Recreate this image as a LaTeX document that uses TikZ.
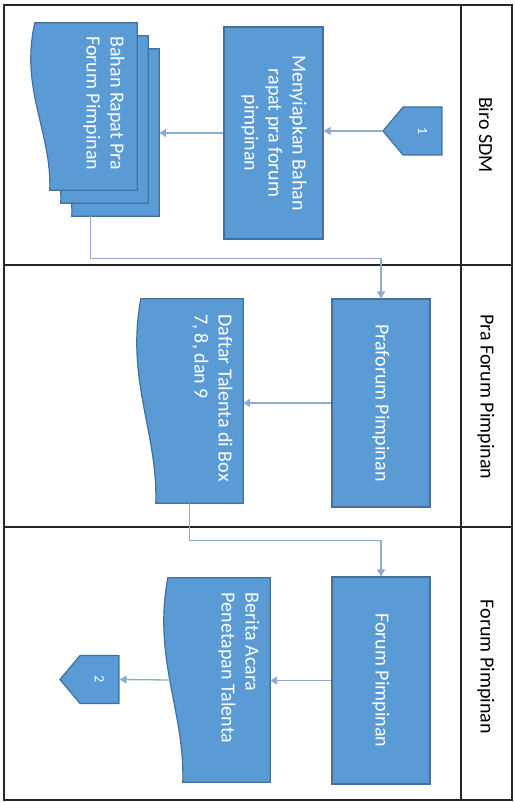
\documentclass[tikz,border=0pt]{standalone}
\usepackage{fontspec}
\setmainfont{Carlito}
\usepackage{graphicx}
\usetikzlibrary{arrows.meta,calc,shapes.symbols}
\pgfdeclarelayer{background}
\pgfsetlayers{background,main}
\definecolor{boxblue}{HTML}{5B9BD5}
\definecolor{boxedge}{HTML}{41719C}
\definecolor{flowline}{HTML}{8EAACE}
\newcommand{\turned}[1]{\rotatebox{-90}{#1}}
% document symbol with the wavy edge on the left
\newcommand{\docshape}[1]{%
  \filldraw[draw=boxedge,fill=boxblue,line width=1.2pt]
    ($(#1.north west)+(5,0)$) -- (#1.north east) -- (#1.south east)
    -- ($(#1.south west)+(20,0)$)
    .. controls ($(#1.north west)!0.65!(#1.south west)+(22,0)$)
    and ($(#1.north west)!0.4!(#1.south west)+(-10,0)$) .. cycle;}

\begin{document}
\begin{tikzpicture}[x=1pt,y=-1pt,
  process node/.style={rectangle,draw=boxedge,fill=boxblue,line width=1.2pt,text=white,font=\fontsize{20}{24}\selectfont,inner sep=0pt},
  doc node/.style={rectangle,inner sep=0pt,minimum width=107pt},
  doc text/.style={text=white,font=\fontsize{20}{24}\selectfont,inner sep=0pt},
  off page/.style={signal,signal to=west,signal pointer angle=100,draw=boxedge,fill=boxblue,line width=1.2pt,text=white,font=\fontsize{14}{17}\selectfont,minimum width=59pt,minimum height=48pt,inner sep=0pt},
  lane label/.style={font=\fontsize{20}{24}\selectfont},
  flow/.style={draw=flowline,line width=1.3pt,-{Triangle[length=7pt,width=8pt]}},
  frame/.style={draw=black!85,line width=1.6pt}]

  \useasboundingbox (0,0) rectangle (514,802);

  % swimlanes
  \draw[frame] (4,5) rectangle (512,800);
  \draw[frame] (461,5) -- (461,800);
  \draw[frame] (4,265) -- (512,265);
  \draw[frame] (4,527) -- (512,527);

  \node[lane label] (lane1) at (486,135) {\turned{Biro SDM}};
  \node[lane label] (lane2) at (486,397) {\turned{Pra Forum Pimpinan}};
  \node[lane label] (lane3) at (486,667) {\turned{Forum Pimpinan}};

  % Biro SDM
  \node[off page] (con1) at (422.5,131) {\turned{1}};
  \node[process node,minimum width=99pt,minimum height=212pt] (siapkan) at (273.5,133)
    {\turned{\begin{tabular}{@{}c@{}}Menyiapkan Bahan\\rapat pra forum\\pimpinan\end{tabular}}};
  \node[doc node,minimum height=167pt] (bahanC) at (105.5,132.5) {};
  \node[doc node,minimum height=167pt] (bahanB) at (94.5,119.5) {};
  \node[doc node,minimum height=167pt,
    label={[doc text,xshift=20pt,yshift=3pt]center:{\turned{\begin{tabular}{@{}l@{}}Bahan Rapat Pra\\Forum Pimpinan\end{tabular}}}}]
    (bahan) at (83.5,106.5) {};

  % Pra Forum Pimpinan
  \node[process node,minimum width=98pt,minimum height=208pt] (praforum) at (381,403)
    {\turned{Praforum Pimpinan}};
  \node[doc node,minimum height=204pt,
    label={[doc text,xshift=22pt,yshift=3pt]center:{\turned{\begin{tabular}{@{}l@{}}Daftar Talenta di Box\\7, 8, dan 9\end{tabular}}}}]
    (daftar) at (189.5,401) {};

  % Forum Pimpinan
  \node[process node,minimum width=98pt,minimum height=207pt] (forum) at (381,680.5)
    {\turned{Forum Pimpinan}};
  \node[doc node,minimum height=204pt,
    label={[doc text,xshift=22pt,yshift=12pt]center:{\turned{\begin{tabular}{@{}l@{}}Berita Acara\\Penetapan Talenta\end{tabular}}}}]
    (berita) at (216.5,680) {};
  \node[off page] (con2) at (99.5,679.5) {\turned{2}};

  \begin{pgfonlayer}{background}
    \docshape{bahanC}
    \docshape{bahanB}
    \docshape{bahan}
    \docshape{daftar}
    \docshape{berita}
  \end{pgfonlayer}

  \draw[flow] (con1.west) -- (con1.west -| siapkan.east);
  \draw[flow] (siapkan.west) -- (siapkan.west -| bahanC.east);
  \draw[flow] ([xshift=-15pt]bahanC.south) -- ++(0,42) -| (praforum.north);
  \draw[flow] (praforum.west) -- (praforum.west -| daftar.east);
  \draw[flow] (daftar.south) -- ++(0,37) -| (forum.north);
  \draw[flow] (forum.west) -- (forum.west -| berita.east);
  \draw[flow] ([xshift=7pt]berita.west) -- (con2.east);

\end{tikzpicture}
\end{document}
